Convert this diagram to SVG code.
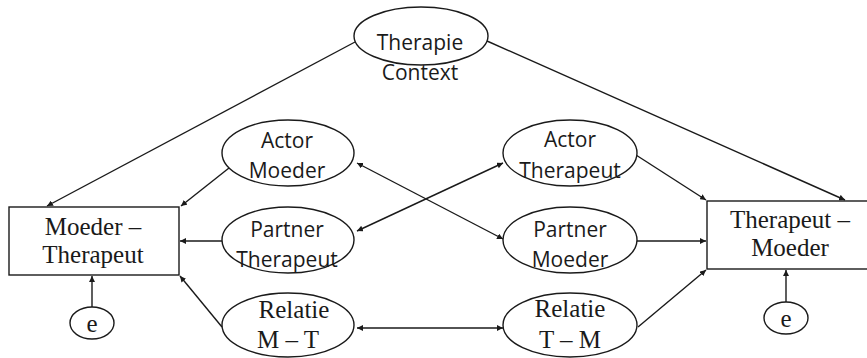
<svg xmlns="http://www.w3.org/2000/svg" width="867" height="358" viewBox="0 0 867 358">
  <style>
    .shape { fill: #ffffff; stroke: #1a1a1a; stroke-width: 1.4; }
    .sans { font-family: "Open Sans", "DejaVu Sans", sans-serif; font-size: 21px; fill: #1a1a1a; text-anchor: middle; }
    .serif { font-family: "Liberation Serif", "Times New Roman", serif; font-size: 25px; fill: #1a1a1a; text-anchor: middle; }
    .link { fill: none; stroke: #1a1a1a; stroke-width: 1.4; }
  </style>
  <defs>
    <marker id="head" viewBox="0 0 6 6" refX="6" refY="3" markerWidth="6" markerHeight="6" markerUnits="userSpaceOnUse" orient="auto-start-reverse">
      <path d="M0,0 L6,3 L0,6 z" fill="#1a1a1a"/>
    </marker>
  </defs>

  <rect width="867" height="358" fill="#ffffff"/>

  <!-- connectors -->
  <g id="connectors">
    <line class="link" x1="355" y1="42" x2="47" y2="206" marker-end="url(#head)"/>
    <line class="link" x1="487" y1="41" x2="845" y2="200" marker-end="url(#head)"/>
    <line class="link" x1="229" y1="168" x2="181" y2="206" marker-end="url(#head)"/>
    <line class="link" x1="222" y1="241" x2="180" y2="241" marker-end="url(#head)"/>
    <line class="link" x1="222" y1="327" x2="180" y2="276" marker-end="url(#head)"/>
    <line class="link" x1="636" y1="155" x2="706" y2="200" marker-end="url(#head)"/>
    <line class="link" x1="637" y1="241" x2="706" y2="241" marker-end="url(#head)"/>
    <line class="link" x1="638" y1="327" x2="706" y2="270" marker-end="url(#head)"/>
    <line class="link" x1="92" y1="307" x2="92" y2="276" marker-end="url(#head)"/>
    <line class="link" x1="786" y1="302" x2="786" y2="270" marker-end="url(#head)"/>
    <line class="link" x1="357" y1="163" x2="503" y2="239" marker-start="url(#head)" marker-end="url(#head)"/>
    <line class="link" x1="357" y1="231" x2="503" y2="163" marker-start="url(#head)" marker-end="url(#head)"/>
    <line class="link" x1="357" y1="328" x2="503" y2="328" marker-start="url(#head)" marker-end="url(#head)"/>
  </g>

  <g id="therapie-context">
    <ellipse class="shape" cx="421" cy="36" rx="67" ry="29"/>
    <text class="sans" x="420" y="50">Therapie</text>
    <text class="sans" x="420" y="80">Context</text>
  </g>

  <g id="moeder-therapeut">
    <rect class="shape" x="9" y="207" width="170" height="68"/>
    <text class="serif" x="93" y="235">Moeder –</text>
    <text class="serif" x="93" y="263">Therapeut</text>
  </g>

  <g id="therapeut-moeder">
    <rect class="shape" x="707" y="201" width="166" height="68"/>
    <text class="serif" x="790" y="228">Therapeut –</text>
    <text class="serif" x="790" y="256">Moeder</text>
  </g>

  <g id="actor-moeder">
    <ellipse class="shape" cx="288" cy="153" rx="66" ry="33"/>
    <text class="sans" x="287" y="148">Actor</text>
    <text class="sans" x="287" y="178">Moeder</text>
  </g>

  <g id="partner-therapeut">
    <ellipse class="shape" cx="288" cy="240" rx="66" ry="33"/>
    <text class="sans" x="287" y="237">Partner</text>
    <text class="sans" x="287" y="267">Therapeut</text>
  </g>

  <g id="relatie-mt">
    <ellipse class="shape" cx="288" cy="325" rx="66" ry="32"/>
    <text class="serif" x="294" y="318">Relatie</text>
    <text class="serif" x="288" y="348">M – T</text>
  </g>

  <g id="actor-therapeut">
    <ellipse class="shape" cx="570" cy="153" rx="67" ry="33"/>
    <text class="sans" x="570" y="147">Actor</text>
    <text class="sans" x="570" y="178">Therapeut</text>
  </g>

  <g id="partner-moeder">
    <ellipse class="shape" cx="570" cy="240" rx="67" ry="33"/>
    <text class="sans" x="570" y="237">Partner</text>
    <text class="sans" x="570" y="267">Moeder</text>
  </g>

  <g id="relatie-tm">
    <ellipse class="shape" cx="570" cy="325" rx="67" ry="32"/>
    <text class="serif" x="570" y="317">Relatie</text>
    <text class="serif" x="570" y="348">T – M</text>
  </g>

  <g id="error-mt">
    <ellipse class="shape" cx="92" cy="323" rx="22" ry="16"/>
    <text class="serif" x="92" y="332">e</text>
  </g>

  <g id="error-tm">
    <ellipse class="shape" cx="786" cy="318" rx="22" ry="16"/>
    <text class="serif" x="786" y="327">e</text>
  </g>
</svg>
